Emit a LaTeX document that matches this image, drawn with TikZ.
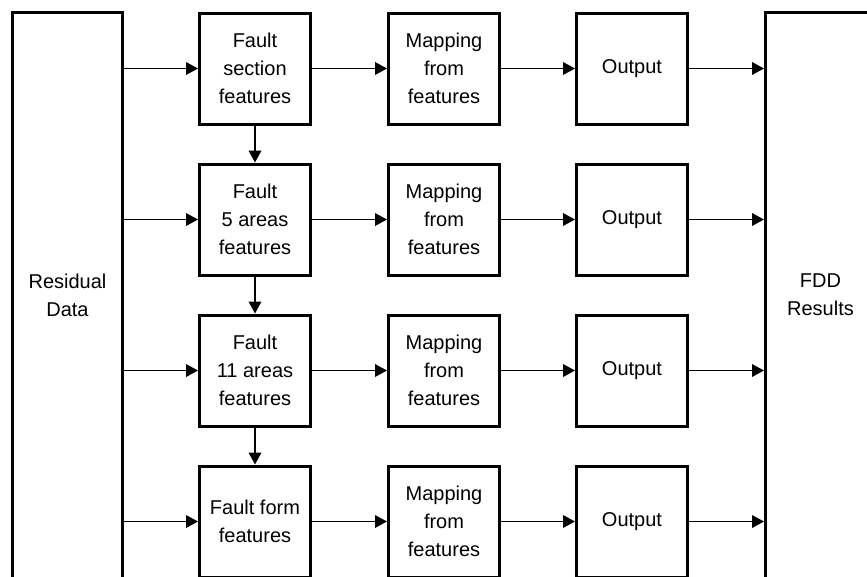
\documentclass[tikz,border=0pt]{standalone}
\usepackage{fontspec}
\setmainfont{Liberation Sans}
\usetikzlibrary{arrows.meta}
\begin{document}
\begin{tikzpicture}[x=0.75pt,y=-0.75pt,
  blk/.style={draw=black, line width=2.25pt, fill=white, minimum width=83.25pt, minimum height=83.25pt, inner sep=0pt, align=center, font=\fontsize{15pt}{21pt}\selectfont},
  big/.style={draw=black, line width=2.25pt, fill=white, minimum width=82.5pt, minimum height=424.5pt, inner sep=0pt, align=center, font=\fontsize{15pt}{21pt}\selectfont},
  arr/.style={line width=1.1pt, -{Triangle[length=9pt,width=9.5pt]}}]
\useasboundingbox (0,0) rectangle (867,576);
\clip (0,0) rectangle (867,576);
\fill[white] (0,0) rectangle (867,576);
\node[big] (res) at (67.5,295) {Residual\\Data};
\node[big] (fdd) at (820.5,295) {FDD\\Results};
\node[blk] (f1) at (255,68.5) {Fault\\section\\features};
\node[blk] (f2) at (255,219.5) {Fault\\5 areas\\features};
\node[blk] (f3) at (255,370.5) {Fault\\11 areas\\features};
\node[blk] (f4) at (255,521.5) {Fault form\\features};
\foreach \i/\y in {1/68.5,2/219.5,3/370.5,4/521.5}{
  \node[blk] (m\i) at (444,\y) {Mapping\\from\\features};
  \node[blk] (o\i) at (632,\y) {Output};
}
\foreach \i in {1,2,3,4}{
  \draw[arr] (res.east |- f\i.west) -- (f\i.west);
  \draw[arr] (f\i.east) -- (m\i.west);
  \draw[arr] (m\i.east) -- (o\i.west);
  \draw[arr] (o\i.east) -- (fdd.west |- o\i.east);
}
\draw[arr] (f1.south) -- (f2.north);
\draw[arr] (f2.south) -- (f3.north);
\draw[arr] (f3.south) -- (f4.north);
\end{tikzpicture}
\end{document}
